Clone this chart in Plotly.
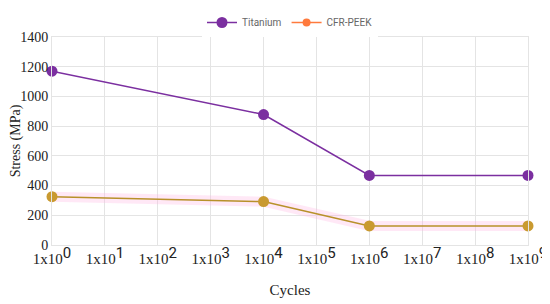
import plotly.graph_objects as go

cycles = [1, 1e4, 1e6, 1e9]
titanium = [1170, 878, 468, 468]
cfr_peek = [325, 292, 128, 128]

tick_vals = [10 ** k for k in range(10)]
tick_text = ["1x10<sup><span style='font-family:Roboto;font-size:15px'>%d</span></sup>" % k
             for k in range(10)]

fig = go.Figure()

# faint pink band behind the CFR-PEEK line
fig.add_trace(go.Scatter(
    x=cycles, y=cfr_peek, mode="lines",
    line=dict(color="rgba(255,180,225,0.3)", width=10),
    showlegend=False, hoverinfo="skip", cliponaxis=False,
))
fig.add_trace(go.Scatter(
    x=cycles, y=titanium, name="Titanium", mode="lines+markers",
    line=dict(color="#7b2fa0", width=1.5),
    marker=dict(color="#7b2fa0", size=11),
    cliponaxis=False,
))
fig.add_trace(go.Scatter(
    x=cycles, y=cfr_peek, name="CFR-PEEK", mode="lines+markers",
    line=dict(color="#b8912a", width=1.5),
    marker=dict(color="#c99a30", size=11),
    showlegend=False, cliponaxis=False,
))
# legend entry drawn in orange, as in the original
fig.add_trace(go.Scatter(
    x=[None], y=[None], name="CFR-PEEK", mode="lines+markers",
    line=dict(color="#ff7a3d", width=1.5),
    marker=dict(color="#ff7a3d", size=8),
))

# page body adds an 8px offset, so margins are shifted to compensate
fig.update_layout(
    width=550, height=304,
    margin=dict(l=44, r=30, t=22, b=67),
    paper_bgcolor="white", plot_bgcolor="white",
    legend=dict(orientation="h", x=0.5, xanchor="center",
                yref="container", y=1.0, yanchor="top",
                font=dict(family="Roboto, sans-serif", size=10, color="#666666"),
                itemwidth=30),
    font=dict(family="Liberation Serif, serif", color="#222222"),
)
fig.update_xaxes(
    type="log", range=[0, 9], tickvals=tick_vals, ticktext=tick_text,
    showgrid=True, gridcolor="#e4e4e4", gridwidth=1,
    showline=True, linecolor="#e4e4e4", mirror=True,
    ticks="", tickfont=dict(size=15), zeroline=False, automargin=False,
    title=dict(text="Cycles", font=dict(size=15), standoff=18),
)
fig.update_yaxes(
    range=[0, 1400], dtick=200,
    showgrid=True, gridcolor="#e4e4e4", gridwidth=1,
    showline=True, linecolor="#e4e4e4", mirror=True,
    ticks="", tickfont=dict(size=14), zeroline=False, automargin=False,
    title=dict(text="Stress (MPa)", font=dict(size=14), standoff=6),
)

fig.write_html("out.html")
